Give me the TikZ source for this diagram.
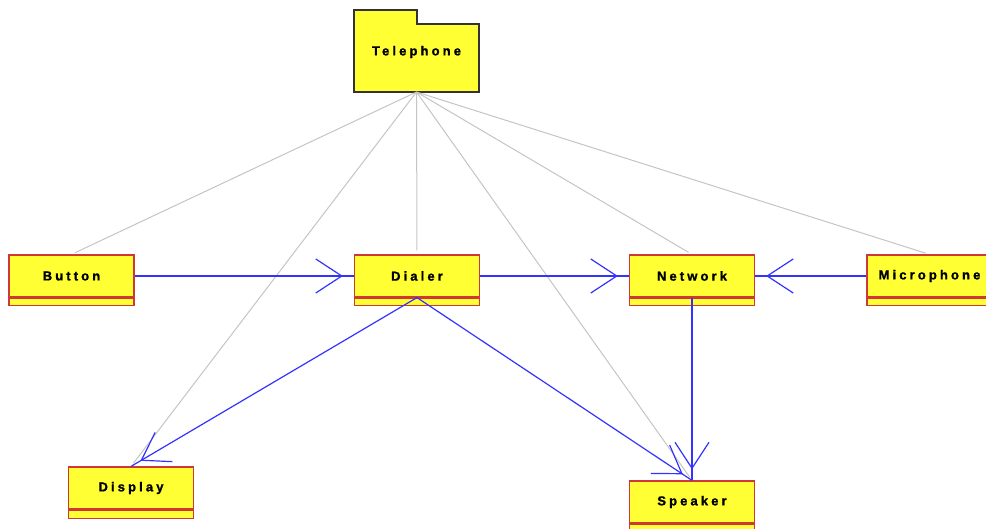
\documentclass[tikz,border=0pt]{standalone}
\usepackage{fontspec}
\newfontfamily\umlfont{Liberation Sans Bold}[LetterSpace=24, FakeBold=1.2]
\usetikzlibrary{arrows.meta,decorations.markings}
\definecolor{umlyellow}{HTML}{FFFF33}
\definecolor{umlred}{HTML}{D03838}
\definecolor{umlblue}{HTML}{3333FF}
\definecolor{depgray}{HTML}{C4C4C4}
\definecolor{pkgedge}{HTML}{333333}
\begin{document}
\begin{tikzpicture}[x=1pt,y=-1pt,
  umltext/.style={font=\umlfont\fontsize{13pt}{15pt}\selectfont},
  classbox/.style={umltext, draw=umlred, fill=umlyellow, line width=1.2pt,
    minimum width=125pt, minimum height=42pt, inner sep=0pt},
  compbox/.style={draw=umlred, fill=umlyellow, line width=1.2pt,
    minimum width=125pt, minimum height=7pt, inner sep=0pt, anchor=north},
  pkgoutline/.style={draw=pkgedge, fill=umlyellow, line width=1.4pt},
  dep/.style={draw=depgray, line width=1pt, shorten >=4pt},
  assoc/.style={draw=umlblue, line width=1.2pt, postaction={decorate},
    decoration={markings, mark=at position -11pt with
      {\arrow{Straight Barb[length=26pt,width=34pt]}}}},
]
\clip (0,0) rectangle (986,529);

% package
\draw[pkgoutline] (354,92) -- (354,10) -- (417,10) -- (417,24)
  -- (479,24) -- (479,92) -- cycle;
\node[umltext] (telephone) at (416.5,52) {Telephone};
\coordinate (telfoot) at (416.5,92);

% classes
\node[classbox] (button) at (71.5,276) {Button};
\node[compbox] (buttonc) at (button.south) {};
\node[classbox] (dialer) at (417,276) {Dialer};
\node[compbox] (dialerc) at (dialer.south) {};
\node[classbox] (network) at (692,276) {Network};
\node[compbox] (networkc) at (network.south) {};
\node[classbox] (microphone) at (929.5,276) {Microphone};
\node[compbox] (microphonec) at (microphone.south) {};
\node[classbox] (display) at (131,488) {Display};
\node[compbox, minimum height=8pt] (displayc) at (display.south) {};
\node[classbox] (speaker) at (692,502) {Speaker};
\node[compbox] (speakerc) at (speaker.south) {};

% package dependencies
\draw[dep] (telfoot) -- (button.north);
\draw[dep] (telfoot) -- (dialer.north);
\draw[dep] (telfoot) -- (network.north);
\draw[dep] (telfoot) -- (microphone.north);
\draw[dep] (telfoot) -- (display.north);
\draw[dep] (telfoot) -- (speaker.north);

% associations
\draw[assoc] (button) -- (dialer);
\draw[assoc] (dialer) -- (network);
\draw[assoc] (microphone) -- (network);
\draw[assoc] (networkc.north) -- (speaker.north);
\draw[assoc] (dialerc.north) -- (display.north);
\draw[assoc] (dialerc.north) -- (speaker.north);
\end{tikzpicture}
\end{document}
